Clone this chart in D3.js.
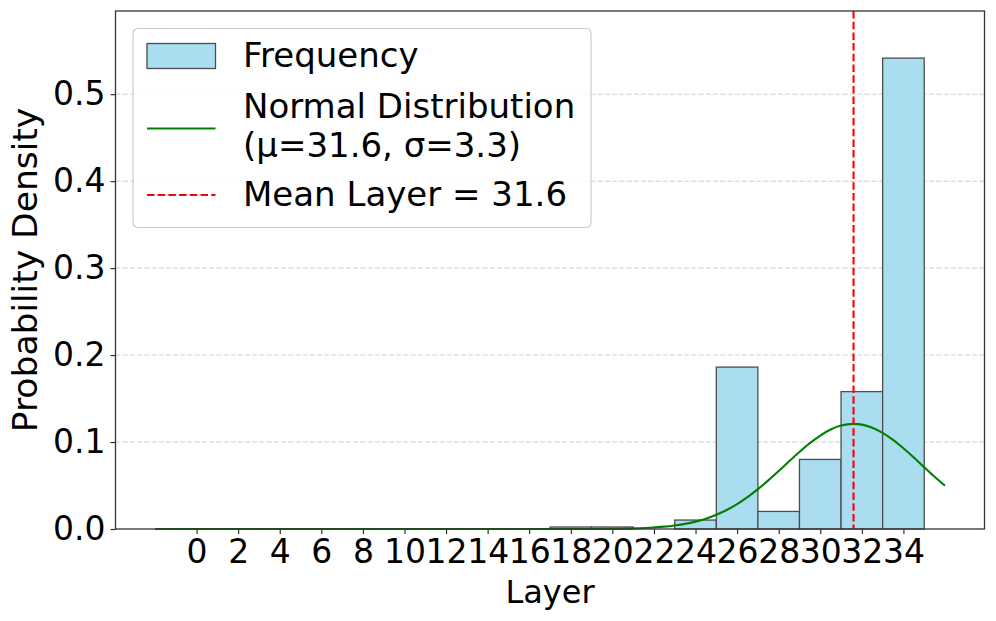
<!DOCTYPE html>
<html>
<head>
<meta charset="utf-8">
<script src="https://cdn.jsdelivr.net/npm/d3@7"></script>
<style>
  html, body { margin: 0; padding: 0; background: #fff; }
  svg { display: block; font-family: "DejaVu Sans", sans-serif; }
</style>
</head>
<body>
<svg id="chart" width="996" height="621"></svg>
<script>
// ---- data ----
const binLefts   = [17, 19, 21, 23, 25, 27, 29, 31, 33];
const binWidth   = 2;
const densities  = [0.0023, 0.0023, 0, 0.0103, 0.1862, 0.0202, 0.080, 0.158, 0.5415];

const curveX = [-2, 0, 4, 8, 12, 16, 18, 19, 20, 21, 22, 22.5, 23, 23.5, 24, 24.5, 25, 25.5, 26, 26.5, 27, 27.5, 28, 28.5, 29, 29.5, 30, 30.5, 31, 31.6, 32, 32.5, 33, 33.5, 34, 34.5, 35, 35.5, 36];
const curveY = [0, 0, 0, 0, 0, 0, 0.00002, 0.00008, 0.00025, 0.0007, 0.0018, 0.0027, 0.0041, 0.0059, 0.0085, 0.0119, 0.0164, 0.0219, 0.0286, 0.0366, 0.0458, 0.0559, 0.0667, 0.0778, 0.0886, 0.0987, 0.1075, 0.1144, 0.1189, 0.1209, 0.1200, 0.1165, 0.1105, 0.1024, 0.0928, 0.0822, 0.0711, 0.0601, 0.0497];

const meanLayer = 31.6;
const xTicks = [0, 2, 4, 6, 8, 10, 12, 14, 16, 18, 20, 22, 24, 26, 28, 30, 32, 34];
const yTicks = [0.0, 0.1, 0.2, 0.3, 0.4, 0.5];
const legendLabels = ["Frequency", "Normal Distribution", "(\u03bc=31.6, \u03c3=3.3)", "Mean Layer = 31.6"];
const xLabel = "Layer";
const yLabel = "Probability Density";

// ---- layout ----
const L = 115.5, R = 984.5, T = 11, B = 529;
const svg = d3.select("#chart");
const x = d3.scaleLinear().domain([-3.9, 37.9]).range([L, R]);
const y = d3.scaleLinear().domain([0, 0.5957]).range([B, T]);

// grid
svg.append("g").selectAll("line").data(yTicks.filter(d => d > 0)).join("line")
  .attr("x1", L).attr("x2", R)
  .attr("y1", d => y(d)).attr("y2", d => y(d))
  .attr("stroke", "#cfcfcf").attr("stroke-width", 1)
  .attr("stroke-dasharray", "5,2.2");

// bars
svg.append("g").selectAll("rect").data(binLefts.map((b, i) => ({b, v: densities[i]}))).join("rect")
  .attr("x", d => x(d.b)).attr("width", d => x(d.b + binWidth) - x(d.b))
  .attr("y", d => y(d.v)).attr("height", d => y(0) - y(d.v))
  .attr("fill", "#abddf1").attr("stroke", "#4d4d4d").attr("stroke-width", 1.3);

// normal curve
const line = d3.line().x(d => x(d[0])).y(d => y(d[1])).curve(d3.curveMonotoneX);
svg.append("path").datum(curveX.map((cx, i) => [cx, curveY[i]]))
  .attr("d", line).attr("fill", "none").attr("stroke", "#008000").attr("stroke-width", 2.1);

// mean line
svg.append("line").attr("x1", x(meanLayer)).attr("x2", x(meanLayer))
  .attr("y1", T).attr("y2", B)
  .attr("stroke", "#ff0000").attr("stroke-width", 2.1).attr("stroke-dasharray", "7.5,3.2");

// axes
const xAxis = d3.axisBottom(x).tickValues(xTicks).tickFormat(d3.format("d")).tickSize(5).tickPadding(5);
const gx = svg.append("g").attr("transform", `translate(0,${B})`).call(xAxis);
const yAxis = d3.axisLeft(y).tickValues(yTicks).tickFormat(d3.format(".1f")).tickSize(5).tickPadding(5);
const gy = svg.append("g").attr("transform", `translate(${L},0)`).call(yAxis);
[gx, gy].forEach(g => {
  g.select(".domain").remove();
  g.selectAll(".tick line").attr("stroke", "#222").attr("stroke-width", 1.1);
  g.selectAll(".tick text").attr("fill", "#000").style("font-size", "33px").style("font-family", "DejaVu Sans");
});
gx.selectAll(".tick text").attr("dy", "0.72em");

// frame
svg.append("rect").attr("x", L).attr("y", T).attr("width", R - L).attr("height", B - T)
  .attr("fill", "none").attr("stroke", "#333").attr("stroke-width", 1.3);

// labels
svg.append("text").attr("x", (L + R) / 2).attr("y", 603).attr("text-anchor", "middle")
  .style("font-size", "32px").text(xLabel);
svg.append("text").attr("transform", `translate(37,${(T + B) / 2}) rotate(-90)`).attr("text-anchor", "middle")
  .style("font-size", "34.5px").text(yLabel);

// legend
const lg = svg.append("g");
lg.append("rect").attr("x", 133).attr("y", 28.5).attr("width", 458).attr("height", 199).attr("rx", 5)
  .attr("fill", "#fff").attr("fill-opacity", 0.85).attr("stroke", "#cccccc").attr("stroke-width", 1.2);
lg.append("rect").attr("x", 147).attr("y", 43.5).attr("width", 68.5).attr("height", 25)
  .attr("fill", "#abddf1").attr("stroke", "#4d4d4d").attr("stroke-width", 1.3);
lg.append("line").attr("x1", 147).attr("x2", 215.5).attr("y1", 128.5).attr("y2", 128.5)
  .attr("stroke", "#008000").attr("stroke-width", 2.1);
lg.append("line").attr("x1", 147).attr("x2", 215.5).attr("y1", 195).attr("y2", 195)
  .attr("stroke", "#ff0000").attr("stroke-width", 2.1).attr("stroke-dasharray", "7.5,3.2");
const ty = [67, 118, 157, 206];
legendLabels.forEach((t, i) => {
  lg.append("text").attr("x", 243).attr("y", ty[i]).style("font-size", "34px").attr("fill", "#000").text(t);
});
</script>
</body>
</html>
